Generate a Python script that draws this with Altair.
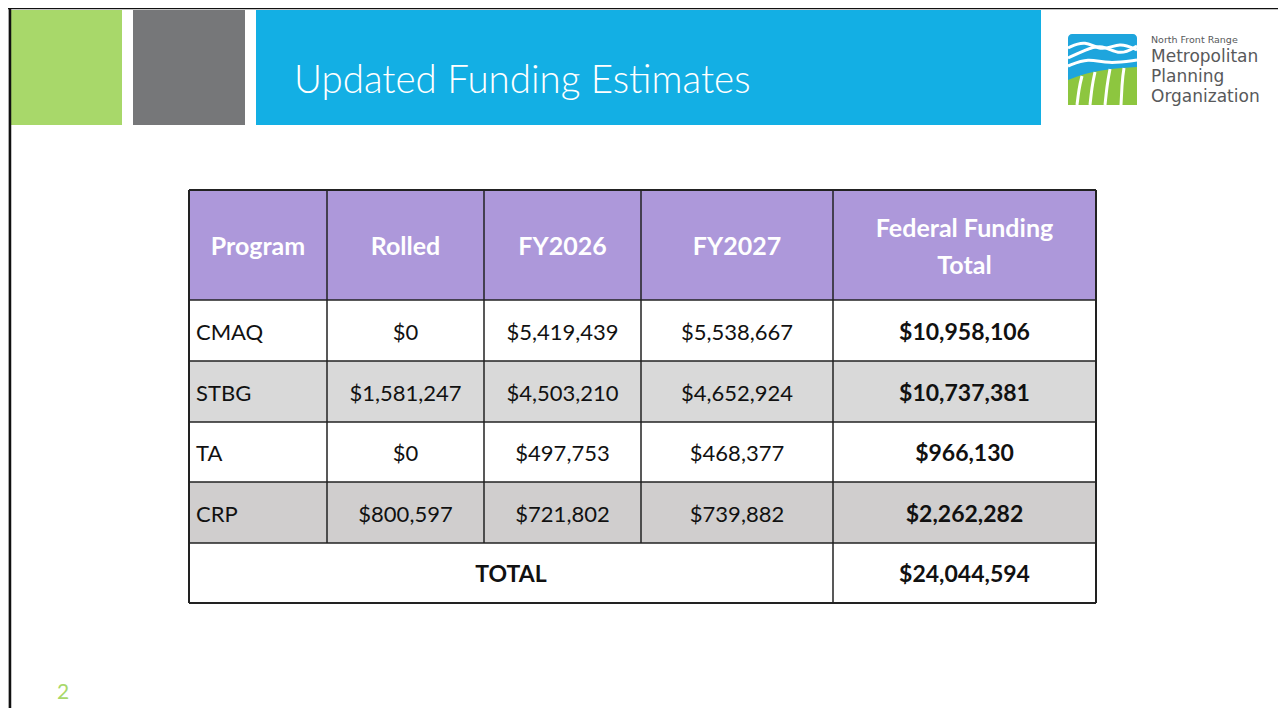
import altair as alt
import pandas as pd

# ---------------- data ----------------
programs = ["CMAQ", "STBG", "TA", "CRP"]
rolled = [0, 1581247, 0, 800597]
fy2026 = [5419439, 4503210, 497753, 721802]
fy2027 = [5538667, 4652924, 468377, 739882]
fed_total = [10958106, 10737381, 966130, 2262282]
grand_total = 24044594
headers = ["Program", "Rolled", "FY2026", "FY2027", ["Federal Funding", "Total"]]
total_label = "TOTAL"
slide_title = "Updated Funding Estimates"
page_number = "2"
logo_small = "North Front Range"
logo_big = ["Metropolitan", "Planning", "Organization"]

# ---------------- layout ----------------
W, H = 1270, 700
OX, OY = 8, 8
col_edges = [189, 327, 484, 641, 833, 1096]
row_edges = [190, 300, 361, 422, 482, 543, 603]
row_fills = ["#AD98DA", "#FFFFFF", "#D9D9D9", "#FFFFFF", "#D0CECE", "#FFFFFF"]
FONT = "Lato"
DY = 2  # small downward optical offset for text in cells

XS = alt.Scale(domain=[OX, OX + W], nice=False, zero=False)
YS = alt.Scale(domain=[OY, OY + H], nice=False, zero=False, reverse=True)


def X(f="x"):
    return alt.X(f"{f}:Q", scale=XS, axis=None)


def Y(f="y"):
    return alt.Y(f"{f}:Q", scale=YS, axis=None)


def fmt(v):
    return f"${v:,}"


# ---------------- background blocks ----------------
blocks = pd.DataFrame([
    dict(x=11, x2=122, y=10, y2=125, fill="#A8D86A"),
    dict(x=133, x2=245, y=10, y2=125, fill="#767779"),
    dict(x=256, x2=1041, y=10, y2=125, fill="#13AFE4"),
])
rects = [dict(x=col_edges[0], x2=col_edges[-1], y=row_edges[i], y2=row_edges[i + 1], fill=row_fills[i])
         for i in range(len(row_edges) - 1)]
cells = pd.DataFrame(rects)

blocks_layer = alt.Chart(blocks).mark_rect().encode(
    x=X(), x2="x2:Q", y=Y(), y2="y2:Q", color=alt.Color("fill:N", scale=None))
cells_layer = alt.Chart(cells).mark_rect().encode(
    x=X(), x2="x2:Q", y=Y(), y2="y2:Q", color=alt.Color("fill:N", scale=None))

# slide frame lines
frame = pd.DataFrame([
    dict(x=OX, x2=OX + W, y=8, y2=8, w=2.5),
    dict(x=10, x2=10, y=8, y2=OY + H, w=2.5),
])
frame_layer = alt.Chart(frame).mark_rule(color="#111111").encode(
    x=X(), x2="x2:Q", y=Y(), y2="y2:Q", strokeWidth=alt.StrokeWidth("w:Q", scale=None))

# table grid
grid = []
for j, e in enumerate(col_edges):
    bottom = row_edges[-1] if j in (0, 4, 5) else row_edges[-2]
    grid.append(dict(x=e, x2=e, y=row_edges[0], y2=bottom, w=2 if j in (0, 5) else 1.5))
for i, e in enumerate(row_edges):
    grid.append(dict(x=col_edges[0], x2=col_edges[-1], y=e, y2=e, w=2 if i in (0, 6) else 1.5))
grid_layer = alt.Chart(pd.DataFrame(grid)).mark_rule(color="#222222").encode(
    x=X(), x2="x2:Q", y=Y(), y2="y2:Q", strokeWidth=alt.StrokeWidth("w:Q", scale=None))

# ---------------- header text ----------------
hdr = []
for j, h in enumerate(headers):
    cx = (col_edges[j] + col_edges[j + 1]) / 2
    cy = (row_edges[0] + row_edges[1]) / 2 + DY
    if isinstance(h, list):
        hdr.append(dict(x=cx, y=cy - 18, t=h[0]))
        hdr.append(dict(x=cx, y=cy + 19, t=h[1]))
    else:
        hdr.append(dict(x=cx, y=cy, t=h))
hdr_layer = alt.Chart(pd.DataFrame(hdr)).mark_text(
    font=FONT, fontSize=25, fontWeight="bold", color="#FFFFFF", align="center", baseline="middle"
).encode(x=X(), y=Y(), text="t:N")

# ---------------- body text ----------------
prog_rows, num_rows, bold_rows = [], [], []
for i, p in enumerate(programs):
    cy = (row_edges[i + 1] + row_edges[i + 2]) / 2 + DY
    prog_rows.append(dict(x=col_edges[0] + 7, y=cy, t=p))
    for j, vals in zip((1, 2, 3), (rolled, fy2026, fy2027)):
        num_rows.append(dict(x=(col_edges[j] + col_edges[j + 1]) / 2, y=cy, t=fmt(vals[i])))
    bold_rows.append(dict(x=(col_edges[4] + col_edges[5]) / 2, y=cy, t=fmt(fed_total[i])))
cy_tot = (row_edges[5] + row_edges[6]) / 2 + DY
bold_rows.append(dict(x=(col_edges[4] + col_edges[5]) / 2, y=cy_tot, t=fmt(grand_total)))
bold_rows.append(dict(x=(col_edges[0] + col_edges[4]) / 2, y=cy_tot, t=total_label))

prog_layer = alt.Chart(pd.DataFrame(prog_rows)).mark_text(
    font=FONT, fontSize=22, color="#111111", align="left", baseline="middle"
).encode(x=X(), y=Y(), text="t:N")
num_layer = alt.Chart(pd.DataFrame(num_rows)).mark_text(
    font=FONT, fontSize=22, color="#111111", align="center", baseline="middle"
).encode(x=X(), y=Y(), text="t:N")
bold_layer = alt.Chart(pd.DataFrame(bold_rows)).mark_text(
    font=FONT, fontSize=23, fontWeight="bold", color="#111111", align="center", baseline="middle"
).encode(x=X(), y=Y(), text="t:N")

# ---------------- title / page number ----------------
title_layer = alt.Chart(pd.DataFrame([dict(x=294, y=93, t=slide_title)])).mark_text(
    font=FONT, fontSize=38.5, fontWeight=300, color="#FFFFFF", align="left", baseline="alphabetic"
).encode(x=X(), y=Y(), text="t:N")
page_layer = alt.Chart(pd.DataFrame([dict(x=63, y=693, t=page_number)])).mark_text(
    font=FONT, fontSize=21, color="#A8D86A", align="center", baseline="middle"
).encode(x=X(), y=Y(), text="t:N")

# ---------------- logo ----------------
logo_box = alt.Chart(pd.DataFrame([dict(x=1068, x2=1137, y=34, y2=105)])).mark_rect(
    color="#1EA5DD", cornerRadius=4).encode(x=X(), x2="x2:Q", y=Y(), y2="y2:Q")
green = pd.DataFrame(dict(x=[1068, 1085, 1105, 1122, 1137], y=[80, 74, 70, 68, 67], y2=[105] * 5))
green_layer = alt.Chart(green).mark_area(color="#8DC63F", interpolate="monotone").encode(
    x=X(), y=Y(), y2="y2:Q")
stripes = pd.DataFrame(dict(
    x=[1082, 1079, 1077, 1095, 1092, 1090, 1110, 1107, 1105, 1124, 1122, 1121],
    y=[76, 90, 105, 72, 88, 105, 69, 87, 105, 68, 86, 105],
    g=[1, 1, 1, 2, 2, 2, 3, 3, 3, 4, 4, 4]))
stripe_layer = alt.Chart(stripes).mark_line(color="#FFFFFF", strokeWidth=3, interpolate="monotone").encode(
    x=X(), y=Y(), detail="g:N", order="y:Q")
waves = pd.DataFrame(dict(
    x=[1068, 1085, 1102, 1120, 1137, 1068, 1085, 1102, 1120, 1137, 1068, 1088, 1108, 1137],
    y=[48, 40, 52, 42, 50, 58, 50, 44, 56, 46, 66, 58, 64, 60],
    g=[1] * 5 + [2] * 5 + [3] * 4))
wave_layer = alt.Chart(waves).mark_line(color="#FFFFFF", strokeWidth=3, interpolate="basis").encode(
    x=X(), y=Y(), detail="g:N", order="x:Q")
logo_t1 = alt.Chart(pd.DataFrame([dict(x=1151, y=43, t=logo_small)])).mark_text(
    font="DejaVu Sans", fontSize=9.5, color="#58595B", align="left", baseline="alphabetic"
).encode(x=X(), y=Y(), text="t:N")
logo_t2 = alt.Chart(pd.DataFrame([dict(x=1151, y=62 + 20 * k, t=s) for k, s in enumerate(logo_big)])).mark_text(
    font="DejaVu Sans", fontSize=17, color="#58595B", align="left", baseline="alphabetic"
).encode(x=X(), y=Y(), text="t:N")

chart = alt.layer(
    blocks_layer, cells_layer, grid_layer, frame_layer, hdr_layer, prog_layer, num_layer, bold_layer,
    title_layer, page_layer, logo_box, green_layer, stripe_layer, wave_layer, logo_t1, logo_t2,
).properties(
    width=W, height=H, autosize=alt.AutoSizeParams(type="none"), padding=0,
).configure_view(stroke=None).configure(background="#FFFFFF")

chart.save("out.html", embed_options={"renderer": "svg", "actions": False})
